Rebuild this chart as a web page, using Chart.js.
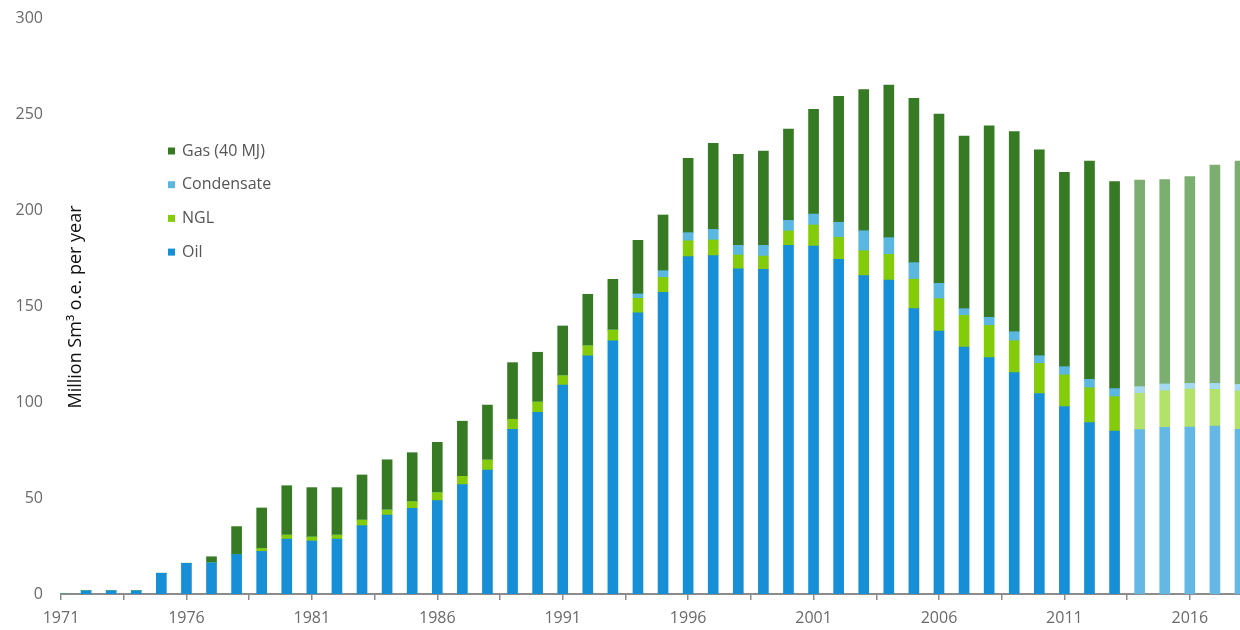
<!DOCTYPE html>
<html lang="en">
<head>
<meta charset="UTF-8">
<title>Petroleum production</title>
<script src="https://cdn.jsdelivr.net/npm/chart.js"></script>
<style>
  body { margin: 0; background: #fff; }
  #wrap { width: 1240px; height: 630px; position: relative; }
</style>
</head>
<body>
<div id="wrap"><canvas id="myChart"></canvas></div>

<script>
// data (million Sm3 o.e. per year)
const years = [1971, 1972, 1973, 1974, 1975, 1976, 1977, 1978, 1979, 1980,
  1981, 1982, 1983, 1984, 1985, 1986, 1987, 1988, 1989, 1990,
  1991, 1992, 1993, 1994, 1995, 1996, 1997, 1998, 1999, 2000,
  2001, 2002, 2003, 2004, 2005, 2006, 2007, 2008, 2009, 2010,
  2011, 2012, 2013, 2014, 2015, 2016, 2017, 2018];

const oil = [0, 1.7, 1.7, 1.7, 10.8, 16.0, 16.3, 20.6, 22.2, 28.6,
  27.6, 28.6, 35.6, 41.1, 44.6, 48.6, 57.0, 64.6, 85.8, 94.6,
  108.8, 124.1, 131.9, 146.5, 157.1, 175.7, 176.2, 169.3, 169.1, 181.6,
  181.2, 174.3, 165.8, 163.5, 148.6, 137.0, 128.6, 123.1, 115.3, 104.4,
  97.6, 89.3, 84.9, 85.6, 86.8, 87.0, 87.5, 85.8];

const ngl = [0, 0, 0, 0, 0, 0, 0, 0, 1.5, 2.1,
  2.1, 2.1, 2.9, 2.7, 3.5, 4.2, 4.3, 5.2, 5.2, 5.4,
  4.9, 5.2, 5.6, 7.5, 7.8, 8.3, 8.2, 7.3, 6.9, 7.5,
  11.0, 11.5, 13.0, 13.4, 15.4, 16.8, 16.5, 16.8, 16.6, 15.7,
  16.5, 18.1, 17.9, 18.9, 19.1, 19.8, 19.1, 19.9];

const condensate = [0, 0, 0, 0, 0, 0, 0, 0, 0, 0,
  0, 0, 0, 0, 0, 0, 0, 0, 0, 0,
  0, 0, 0, 2.3, 3.5, 4.2, 5.5, 5.0, 5.6, 5.5,
  5.7, 7.8, 10.4, 8.7, 8.6, 8.0, 3.5, 4.2, 4.7, 4.0,
  4.3, 4.4, 4.2, 3.5, 3.5, 2.9, 3.1, 3.5];

const gas = [0, 0, 0, 0, 0, 0, 3.1, 14.5, 21.1, 25.7,
  25.7, 24.7, 23.5, 26.1, 25.5, 26.2, 28.7, 28.6, 29.5, 25.9,
  25.9, 26.8, 26.4, 27.9, 29.0, 38.7, 44.8, 47.4, 49.1, 47.6,
  54.5, 65.6, 73.5, 79.5, 85.6, 88.2, 89.9, 99.8, 104.2, 107.2,
  101.2, 113.7, 107.8, 107.6, 106.4, 107.7, 113.7, 116.3];

const firstForecastYear = 2014;
const xLabelYears = [1971, 1976, 1981, 1986, 1991, 1996, 2001, 2006, 2011, 2016];
const yTickValues = [0, 50, 100, 150, 200, 250, 300];

// colours: [historic, forecast]
const colOil = ['#168fd7', '#66b8e4'];
const colNgl = ['#84cc0a', '#b3e26b'];
const colCond = ['#5ab8e0', '#a5d9f0'];
const colGas = ['#367a24', '#7bae70'];

function barColors(pair) {
  return years.map(y => y >= firstForecastYear ? pair[1] : pair[0]);
}

const fontFamily = '"Open Sans", "Noto Sans", sans-serif';

// legend + axis title drawn inside the plot area, like the original
const insideText = {
  id: 'insideText',
  afterDraw(chart) {
    const ctx = chart.ctx;
    const area = chart.chartArea;
    ctx.save();

    // y axis title
    ctx.translate(area.left + 15, (area.top + area.bottom) / 2 + 1);
    ctx.rotate(-Math.PI / 2);
    ctx.font = '18px ' + fontFamily;
    ctx.fillStyle = '#111';
    ctx.textAlign = 'center';
    ctx.textBaseline = 'middle';
    ctx.fillText('Million Sm³ o.e. per year', 0, 0);
    ctx.restore();

    // legend, top item is the top of the stack
    ctx.save();
    const items = chart.data.datasets.slice().reverse();
    ctx.font = '16px ' + fontFamily;
    ctx.textBaseline = 'middle';
    items.forEach((ds, i) => {
      const y = 151 + i * 33.7;
      ctx.fillStyle = ds.backgroundColor[0];
      ctx.fillRect(168, y - 3.5, 7, 7);
      ctx.fillStyle = '#555';
      ctx.fillText(ds.label, 182, y);
    });
    ctx.restore();
  }
};

const data = {
  labels: years,
  datasets: [
    { label: 'Oil', data: oil, backgroundColor: barColors(colOil) },
    { label: 'NGL', data: ngl, backgroundColor: barColors(colNgl) },
    { label: 'Condensate', data: condensate, backgroundColor: barColors(colCond) },
    { label: 'Gas (40 MJ)', data: gas, backgroundColor: barColors(colGas) }
  ]
};

const config = {
  type: 'bar',
  data: data,
  options: {
    responsive: true,
    maintainAspectRatio: false,
    animation: false,
    barThickness: 10,
    layout: { padding: { top: 18, right: 0, left: 0, bottom: 0 } },
    plugins: {
      legend: { display: false },
      tooltip: { enabled: false }
    },
    scales: {
      x: {
        type: 'linear',
        stacked: true,
        offset: false,
        min: 1971,
        max: 2018,
        afterFit(scale) { scale.height = 36; },
        afterBuildTicks(scale) {
          const t = [];
          for (let v = 1971; v <= 2018; v += 2.5) t.push({ value: v });
          scale.ticks = t;
        },
        ticks: {
          autoSkip: false,
          maxRotation: 0,
          padding: 9,
          color: '#6a6a6a',
          font: { family: fontFamily, size: 16 },
          callback: v => xLabelYears.includes(v) ? String(v) : ''
        },
        grid: {
          offset: false,
          drawOnChartArea: false,
          drawTicks: true,
          tickLength: 6,
          color: '#8c8c8c',
          lineWidth: 1.5
        },
        border: { display: true, color: '#8c8c8c', width: 2 }
      },
      y: {
        stacked: true,
        min: 0,
        max: 300,
        afterFit(scale) {
          scale.width = 61;
          scale.paddingTop = 0;
        },
        afterBuildTicks(scale) {
          scale.ticks = yTickValues.map(v => ({ value: v }));
        },
        ticks: {
          padding: 18,
          color: '#6a6a6a',
          font: { family: fontFamily, size: 16 }
        },
        grid: { display: false, drawTicks: false },
        border: { display: false }
      }
    }
  },
  plugins: [insideText]
};

const myChart = new Chart(document.getElementById('myChart'), config);
</script>
</body>
</html>
